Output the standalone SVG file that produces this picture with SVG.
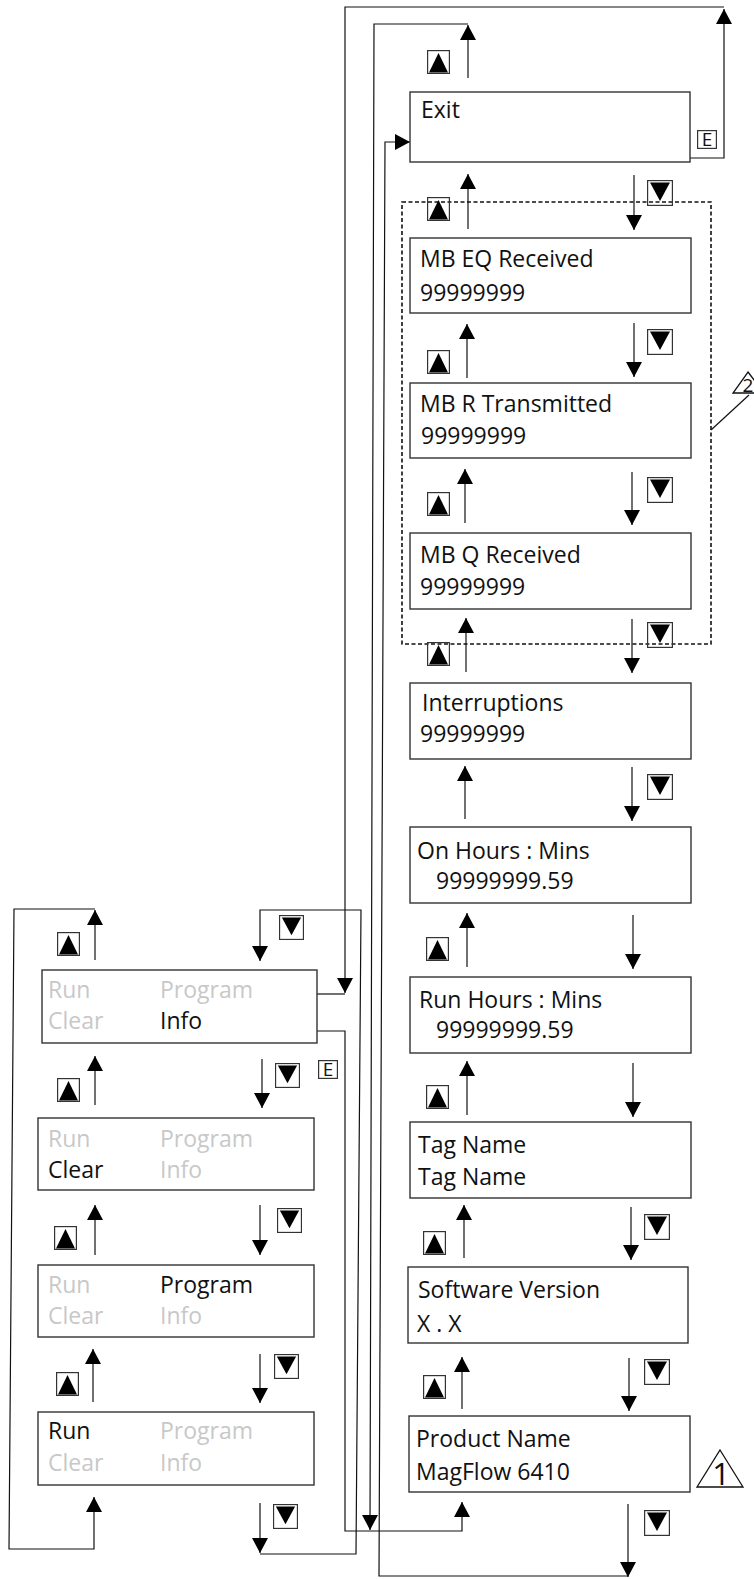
<svg xmlns="http://www.w3.org/2000/svg" xmlns:xlink="http://www.w3.org/1999/xlink" width="754" height="1579" viewBox="0 0 754 1579">
<style>
.box{fill:#fff;stroke:#333;stroke-width:1.4}
.t{font-family:'Open Sans','Liberation Sans',sans-serif;font-size:23px;fill:#111}
.g{fill:#c8c8c8}
.ln{fill:none;stroke:#111;stroke-width:1.2}
.a{marker-end:url(#ah)}
.ic{fill:none;stroke:#333;stroke-width:1.2}
.dash{fill:none;stroke:#111;stroke-width:1.6;stroke-dasharray:4 2.5}
</style>
<defs>
<marker id="ah" markerUnits="userSpaceOnUse" markerWidth="15" markerHeight="16" viewBox="0 0 15 16" refX="15" refY="8" orient="auto"><path d="M0,0 L15,8 L0,16 z" fill="#000"/></marker>
<symbol id="bu" viewBox="0 0 23 24"><rect class="ic" x="0.6" y="0.6" width="21.8" height="22.8"/><path d="M11.5,3 L21,22.4 L2,22.4 z" fill="#000"/></symbol>
<symbol id="bd" viewBox="0 0 26 26"><rect class="ic" x="0.6" y="0.6" width="24.8" height="24.8"/><path d="M3,2.5 L23,2.5 L13,21 z" fill="#000"/></symbol>
<symbol id="be" viewBox="0 0 20 19"><rect class="ic" x="0.6" y="0.6" width="18.8" height="17.8"/><text x="10" y="16" text-anchor="middle" style="font-family:'Open Sans','Liberation Sans',sans-serif;font-size:19px;fill:#111">E</text></symbol>
</defs>

<g id="group-box">
<rect class="dash" x="402" y="202" width="309" height="442"/>
</g>

<g id="connectors">
<line class="ln a" x1="468" y1="229" x2="468" y2="174"/>
<line class="ln a" x1="467" y1="378" x2="467" y2="324"/>
<line class="ln a" x1="465" y1="523" x2="465" y2="469"/>
<line class="ln a" x1="466" y1="672" x2="466" y2="618"/>
<line class="ln a" x1="465" y1="819" x2="465" y2="766"/>
<line class="ln a" x1="467" y1="967" x2="467" y2="913"/>
<line class="ln a" x1="467" y1="1115" x2="467" y2="1061"/>
<line class="ln a" x1="464" y1="1258" x2="464" y2="1205"/>
<line class="ln a" x1="462" y1="1409" x2="462" y2="1357"/>
<line class="ln a" x1="634" y1="175" x2="634" y2="230"/>
<line class="ln a" x1="634" y1="323" x2="634" y2="377"/>
<line class="ln a" x1="632" y1="472" x2="632" y2="525"/>
<line class="ln a" x1="632" y1="619" x2="632" y2="673"/>
<line class="ln a" x1="632" y1="767" x2="632" y2="821"/>
<line class="ln a" x1="633" y1="915" x2="633" y2="969"/>
<line class="ln a" x1="633" y1="1063" x2="633" y2="1117"/>
<line class="ln a" x1="631" y1="1207" x2="631" y2="1260"/>
<line class="ln a" x1="629" y1="1358" x2="629" y2="1411"/>
<line class="ln a" x1="95" y1="1105" x2="95" y2="1056"/>
<line class="ln a" x1="95" y1="1255" x2="95" y2="1205"/>
<line class="ln a" x1="93" y1="1402" x2="93" y2="1349"/>
<line class="ln a" x1="262" y1="1059" x2="262" y2="1108"/>
<line class="ln a" x1="260" y1="1205" x2="260" y2="1255"/>
<line class="ln a" x1="260" y1="1354" x2="260" y2="1403"/>
<polyline class="ln a" points="690,158 724,158 724,9"/>
<polyline class="ln a" points="724,7 345,7 345,993"/>
<line class="ln" x1="317" y1="994" x2="345" y2="994"/>
<line class="ln a" x1="468" y1="78" x2="468" y2="25"/>
<polyline class="ln a" points="468,24 374,24 370,1530"/>
<polyline class="ln a" points="317,1031 345,1031 345,1531 462,1531 462,1502"/>
<line class="ln a" x1="628" y1="1504" x2="628" y2="1577"/>
<polyline class="ln a" points="628,1576 379,1576 385,142 410,142"/>
<line class="ln a" x1="260" y1="1503" x2="260" y2="1553"/>
<polyline class="ln a" points="260,1554 356,1554 361,910 260,910 260,961"/>
<line class="ln a" x1="95" y1="960" x2="95" y2="910"/>
<polyline class="ln a" points="95,909 14,909 9,1549 94,1549 94,1497"/>
<line class="ln" x1="711" y1="430" x2="749" y2="395"/>
</g>

<g id="buttons">
<use xlink:href="#bu" x="427" y="50" width="23" height="24"/>
<use xlink:href="#bu" x="427" y="197" width="23" height="24"/>
<use xlink:href="#bu" x="427" y="350" width="23" height="24"/>
<use xlink:href="#bu" x="427" y="492" width="23" height="24"/>
<use xlink:href="#bu" x="427" y="642" width="23" height="24"/>
<use xlink:href="#bu" x="426" y="937" width="23" height="24"/>
<use xlink:href="#bu" x="426" y="1085" width="23" height="24"/>
<use xlink:href="#bu" x="423" y="1231" width="23" height="24"/>
<use xlink:href="#bu" x="423" y="1375" width="23" height="24"/>
<use xlink:href="#bd" x="647" y="180" width="26" height="26"/>
<use xlink:href="#bd" x="647" y="329" width="26" height="26"/>
<use xlink:href="#bd" x="647" y="477" width="26" height="26"/>
<use xlink:href="#bd" x="647" y="622" width="26" height="26"/>
<use xlink:href="#bd" x="647" y="774" width="26" height="26"/>
<use xlink:href="#bd" x="644" y="1214" width="26" height="26"/>
<use xlink:href="#bd" x="644" y="1359" width="26" height="26"/>
<use xlink:href="#bd" x="644" y="1510" width="26" height="26"/>
<use xlink:href="#bu" x="57" y="932" width="23" height="24"/>
<use xlink:href="#bu" x="57" y="1078" width="23" height="24"/>
<use xlink:href="#bu" x="54" y="1226" width="23" height="24"/>
<use xlink:href="#bu" x="56" y="1372" width="23" height="24"/>
<use xlink:href="#bd" x="279" y="915" width="25" height="25"/>
<use xlink:href="#bd" x="275" y="1063" width="25" height="25"/>
<use xlink:href="#bd" x="277" y="1208" width="25" height="25"/>
<use xlink:href="#bd" x="274" y="1354" width="25" height="25"/>
<use xlink:href="#bd" x="273" y="1504" width="25" height="25"/>
<use xlink:href="#be" x="697" y="130" width="20" height="19"/>
<use xlink:href="#be" x="318" y="1060" width="20" height="19"/>
</g>

<g id="node-exit"><rect class="box" x="410" y="92" width="280" height="70"/><text class="t" x="421" y="118">Exit</text></g>
<g id="node-mbeq"><rect class="box" x="410" y="238" width="281" height="75"/><text class="t" x="420" y="267">MB EQ Received</text><text class="t" x="420" y="301">99999999</text></g>
<g id="node-mbr"><rect class="box" x="410" y="383" width="281" height="75"/><text class="t" x="420" y="412">MB R Transmitted</text><text class="t" x="421" y="444">99999999</text></g>
<g id="node-mbq"><rect class="box" x="410" y="533" width="281" height="76"/><text class="t" x="420" y="563">MB Q Received</text><text class="t" x="420" y="595">99999999</text></g>
<g id="node-interruptions"><rect class="box" x="410" y="683" width="281" height="76"/><text class="t" x="422" y="711">Interruptions</text><text class="t" x="420" y="742">99999999</text></g>
<g id="node-onhours"><rect class="box" x="410" y="827" width="281" height="76"/><text class="t" x="417" y="859">On Hours : Mins</text><text class="t" x="436" y="889">99999999.59</text></g>
<g id="node-runhours"><rect class="box" x="410" y="977" width="281" height="76"/><text class="t" x="419" y="1008">Run Hours : Mins</text><text class="t" x="436" y="1038">99999999.59</text></g>
<g id="node-tagname"><rect class="box" x="410" y="1122" width="281" height="76"/><text class="t" x="418" y="1153">Tag Name</text><text class="t" x="418" y="1185">Tag Name</text></g>
<g id="node-software"><rect class="box" x="408" y="1267" width="280" height="76"/><text class="t" x="418" y="1298">Software Version</text><text class="t" x="417" y="1332">X . X</text></g>
<g id="node-product"><rect class="box" x="409" y="1416" width="281" height="76"/><text class="t" x="416" y="1447">Product Name</text><text class="t" x="416" y="1480">MagFlow 6410</text></g>

<g id="node-menu-info"><rect class="box" x="42" y="970" width="275" height="73"/><text class="t g" x="48" y="998">Run</text><text class="t g" x="160" y="998">Program</text><text class="t g" x="48" y="1029">Clear</text><text class="t" x="160" y="1029">Info</text></g>
<g id="node-menu-clear"><rect class="box" x="38" y="1118" width="276" height="72"/><text class="t g" x="48" y="1147">Run</text><text class="t g" x="160" y="1147">Program</text><text class="t" x="48" y="1178">Clear</text><text class="t g" x="160" y="1178">Info</text></g>
<g id="node-menu-program"><rect class="box" x="38" y="1265" width="276" height="72"/><text class="t g" x="48" y="1293">Run</text><text class="t" x="160" y="1293">Program</text><text class="t g" x="48" y="1324">Clear</text><text class="t g" x="160" y="1324">Info</text></g>
<g id="node-menu-run"><rect class="box" x="38" y="1412" width="276" height="73"/><text class="t" x="48" y="1439">Run</text><text class="t g" x="160" y="1439">Program</text><text class="t g" x="48" y="1471">Clear</text><text class="t g" x="160" y="1471">Info</text></g>

<g id="note-1"><path d="M720,1450 L743,1487 L697,1487 z" fill="none" stroke="#111" stroke-width="1.3"/><text x="721" y="1485" text-anchor="middle" style="font-family:'Open Sans','Liberation Sans',sans-serif;font-size:31px;fill:#111">1</text></g>
<g id="note-2"><path d="M748,372 L764,393 L733,393 z" fill="none" stroke="#111" stroke-width="1.3"/><text x="748" y="392" text-anchor="middle" style="font-family:'Open Sans','Liberation Sans',sans-serif;font-size:19px;fill:#111">2</text></g>
</svg>
